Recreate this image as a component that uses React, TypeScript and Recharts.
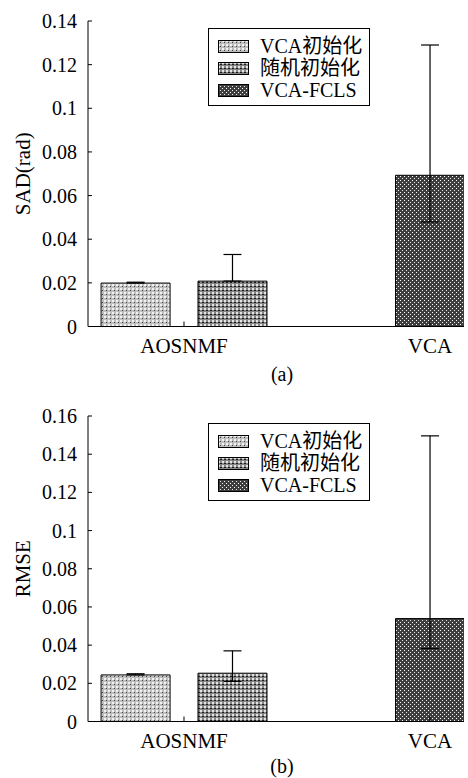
import { BarChart, Bar, XAxis, YAxis, ErrorBar, Legend, Cell } from "recharts";

const categories = ["AOSNMF", "VCA"];
const seriesNames = ["VCA初始化", "随机初始化", "VCA-FCLS"];
// which category each series' bar sits in
const seriesCategory = [0, 0, 1];

const sadValues = [0.0199, 0.0208, 0.0693];
const sadUpper = [0.0203, 0.033, 0.129];
const sadLower = [0.0199, 0.0208, 0.0479];
const sadTicks = [0, 0.02, 0.04, 0.06, 0.08, 0.1, 0.12, 0.14];

const rmseValues = [0.0244, 0.0253, 0.0539];
const rmseUpper = [0.025, 0.037, 0.1496];
const rmseLower = [0.0244, 0.021, 0.0382];
const rmseTicks = [0, 0.02, 0.04, 0.06, 0.08, 0.1, 0.12, 0.14, 0.16];

const FONT = "'Liberation Serif', 'Times New Roman', 'Noto Sans CJK SC', serif";
const GROUP_OFFSET = 0.197;

function buildRows(values: number[], upper: number[], lower: number[]) {
  return values.map((v, i) => {
    const cat = seriesCategory[i];
    const members = seriesCategory.map((c, j) => (c === cat ? j : -1)).filter((j) => j >= 0);
    const k = members.indexOf(i);
    const off = members.length > 1 ? (k - (members.length - 1) / 2) * 2 * GROUP_OFFSET : 0;
    return {
      name: seriesNames[i],
      series: i,
      x: cat + 1 + off,
      value: v,
      err: [v - lower[i], upper[i] - v],
    };
  });
}

function Patterns({ prefix }: { prefix: string }) {
  return (
    <defs>
      <pattern id={`${prefix}-p0`} width="4" height="4" patternUnits="userSpaceOnUse">
        <rect width="4" height="4" fill="#bdbdbd" />
        <rect x="0" y="0" width="2" height="2" fill="#f2f2f2" />
        <rect x="2" y="2" width="1" height="1" fill="#444" />
      </pattern>
      <pattern id={`${prefix}-p1`} width="4" height="4" patternUnits="userSpaceOnUse">
        <rect width="4" height="4" fill="#858585" />
        <rect x="0" y="0" width="2" height="2" fill="#e4e4e4" />
        <rect x="2" y="2" width="2" height="1" fill="#1a1a1a" />
      </pattern>
      <pattern id={`${prefix}-p2`} width="4" height="4" patternUnits="userSpaceOnUse">
        <rect width="4" height="4" fill="#3e3e3e" />
        <rect x="0" y="0" width="1" height="1" fill="#fff" />
        <rect x="2" y="2" width="1" height="1" fill="#eee" />
      </pattern>
    </defs>
  );
}

function legendContent(prefix: string) {
  return () => (
    <div
      style={{
        width: 160,
        height: 76,
        border: "1px solid #000",
        background: "#fff",
        position: "relative",
        fontFamily: FONT,
        fontSize: 20,
        color: "#000",
      }}
    >
      {seriesNames.map((n, i) => (
        <div
          key={n}
          style={{
            position: "absolute",
            left: 9,
            top: 6 + 22 * i,
            height: 22,
            display: "flex",
            alignItems: "center",
            whiteSpace: "nowrap",
          }}
        >
          <svg width={31} height={13} style={{ display: "block" }}>
            <rect x={0.5} y={0.5} width={30} height={12} fill={`url(#${prefix}-p${i})`} stroke="#000" />
          </svg>
          <span style={{ marginLeft: 11, lineHeight: "22px" }}>{n}</span>
        </div>
      ))}
    </div>
  );
}

interface PanelProps {
  prefix: string;
  height: number;
  top: number;
  values: number[];
  upper: number[];
  lower: number[];
  ticks: number[];
  yLabel: string;
  caption: string;
  captionDy: number;
  legendTop: number;
}

function Panel(p: PanelProps) {
  const data = buildRows(p.values, p.upper, p.lower);
  const xAxisHeight = p.height - p.top - 305.5;
  return (
    <BarChart
      width={468}
      height={p.height}
      data={data}
      margin={{ top: p.top, right: 4, bottom: 0, left: 0 }}
      style={{ fontFamily: FONT }}
    >
      <Patterns prefix={p.prefix} />
      <XAxis
        type="number"
        dataKey="x"
        domain={[0.6098, 2.1382]}
        allowDataOverflow
        ticks={[1, 2]}
        tickFormatter={(v: number) => categories[v - 1] ?? ""}
        height={xAxisHeight}
        axisLine={{ stroke: "#000", strokeWidth: 1 }}
        tickLine={{ stroke: "#000", strokeWidth: 1 }}
        tickSize={-5}
        tickMargin={17}
        tick={{ fill: "#000", fontSize: 21, fontFamily: FONT }}
        label={{
          content: ({ viewBox }: any) => (
            <text
              x={viewBox.x + viewBox.width / 2 + 6}
              y={viewBox.y + p.captionDy}
              textAnchor="middle"
              dominantBaseline="central"
              fontSize={20}
              fontFamily={FONT}
              fill="#000"
            >
              {p.caption}
            </text>
          ),
        }}
      />
      <YAxis
        type="number"
        domain={[0, p.ticks[p.ticks.length - 1]]}
        ticks={p.ticks}
        interval={0}
        width={88}
        axisLine={{ stroke: "#000", strokeWidth: 1 }}
        tickLine={{ stroke: "#000", strokeWidth: 1 }}
        tickSize={-4}
        tickMargin={15}
        tick={{ fill: "#000", fontSize: 20, fontFamily: FONT }}
        label={{
          content: ({ viewBox }: any) => {
            const cx = 23;
            const cy = viewBox.y + viewBox.height / 2;
            return (
              <text
                x={cx}
                y={cy}
                transform={`rotate(-90, ${cx}, ${cy})`}
                textAnchor="middle"
                dominantBaseline="central"
                fontSize={21}
                fontFamily={FONT}
                fill="#000"
              >
                {p.yLabel}
              </text>
            );
          },
        }}
      />
      <Legend
        layout="vertical"
        align="center"
        verticalAlign="middle"
        content={legendContent(p.prefix)}
        wrapperStyle={{ left: 208, top: p.legendTop, width: 162 }}
      />
      <Bar dataKey="value" barSize={69} stroke="#000" strokeWidth={1} isAnimationActive={false}>
        {data.map((d) => (
          <Cell key={d.name} fill={`url(#${p.prefix}-p${d.series})`} />
        ))}
        <ErrorBar dataKey="err" direction="y" width={9} stroke="#000" strokeWidth={1.2} />
      </Bar>
    </BarChart>
  );
}

export default function App() {
  return (
    <div style={{ width: 468, height: 778, background: "#fff", fontFamily: FONT }}>
      <style>{`body{margin:0;background:#fff;}`}</style>
      <Panel
        prefix="a"
        height={390}
        top={21}
        values={sadValues}
        upper={sadUpper}
        lower={sadLower}
        ticks={sadTicks}
        yLabel="SAD(rad)"
        caption="(a)"
        captionDy={47}
        legendTop={28}
      />
      <Panel
        prefix="b"
        height={388}
        top={26}
        values={rmseValues}
        upper={rmseUpper}
        lower={rmseLower}
        ticks={rmseTicks}
        yLabel="RMSE"
        caption="(b)"
        captionDy={44}
        legendTop={33}
      />
    </div>
  );
}
